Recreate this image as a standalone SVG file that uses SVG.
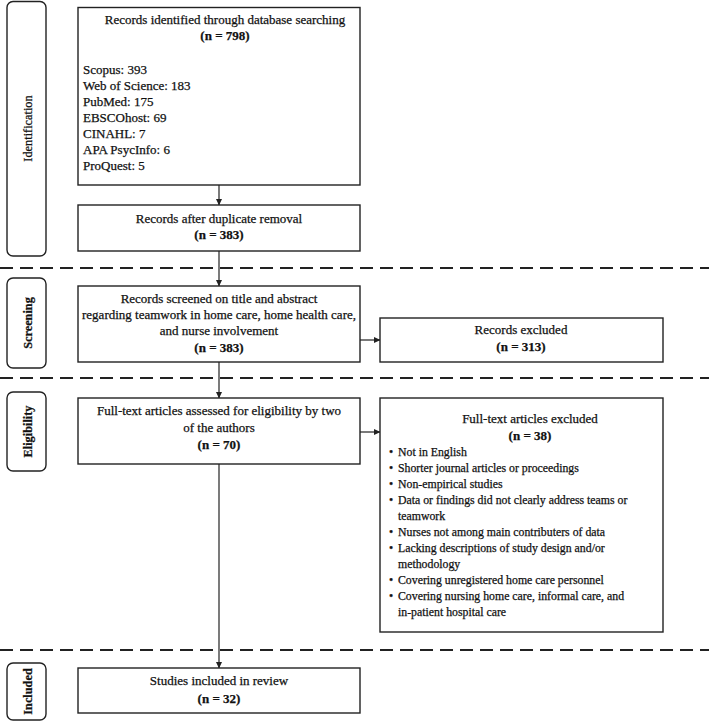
<svg xmlns="http://www.w3.org/2000/svg" width="709" height="722" viewBox="0 0 709 722">
<style>
  text { font-family: "Liberation Serif", "Times New Roman", serif; fill: #111; stroke: #111; stroke-width: 0.25; }
  .t { font-size: 13px; }
  .c { text-anchor: middle; }
  .b { font-weight: bold; }
  .s { font-size: 11.8px; }
  .lab { font-size: 12.3px; text-anchor: middle; }
  .box { fill: #fff; stroke: #222; stroke-width: 1.4; }
  .side { fill: #fff; stroke: #222; stroke-width: 1.4; }
  .dash { stroke: #222; stroke-width: 2; stroke-dasharray: 13 7; fill: none; }
  .con { stroke: #222; stroke-width: 1.2; fill: none; marker-end: url(#ah); }
</style>
<defs>
  <marker id="ah" markerWidth="7" markerHeight="7" refX="6" refY="3.5" orient="auto" markerUnits="userSpaceOnUse">
    <path d="M0,0.5 L6.5,3.5 L0,6.5 Z" fill="#222"/>
  </marker>
</defs>
<rect width="709" height="722" fill="#fff"/>

<g id="phases">
  <line class="dash" x1="0" y1="268" x2="709" y2="268"/>
  <line class="dash" x1="0" y1="378" x2="709" y2="378"/>
  <line class="dash" x1="0" y1="650" x2="709" y2="650"/>
</g>

<g id="label-identification">
  <rect class="side" x="7" y="1.5" width="39" height="254.5" rx="6"/>
  <text class="lab" transform="translate(32,128.5) rotate(-90)">Identification</text>
</g>
<g id="label-screening">
  <rect class="side" x="7" y="278" width="39" height="90" rx="6"/>
  <text class="lab b" transform="translate(32,323) rotate(-90)">Screening</text>
</g>
<g id="label-eligibility">
  <rect class="side" x="7" y="392" width="39" height="79" rx="6"/>
  <text class="lab b" transform="translate(32,431.5) rotate(-90)">Eligibility</text>
</g>
<g id="label-included">
  <rect class="side" x="7" y="663" width="39" height="57" rx="6"/>
  <text class="lab b" transform="translate(32,691.5) rotate(-90)">Included</text>
</g>

<g id="connectors">
  <line class="con" x1="219" y1="185" x2="219" y2="205"/>
  <line class="con" x1="219" y1="251" x2="219" y2="286"/>
  <line class="con" x1="360" y1="340" x2="380" y2="340"/>
  <line class="con" x1="219" y1="362" x2="219" y2="398"/>
  <line class="con" x1="360" y1="432" x2="380" y2="432"/>
  <line class="con" x1="219" y1="464" x2="219" y2="668"/>
</g>

<g id="identified">
  <rect class="box" x="78" y="7.5" width="282" height="177.5"/>
  <text class="t c" x="225" y="24">Records identified through database searching</text>
  <text class="t c b" x="225" y="40">(n = 798)</text>
  <text class="t" x="83" y="74">Scopus: 393</text>
  <text class="t" x="83" y="90">Web of Science: 183</text>
  <text class="t" x="83" y="106">PubMed: 175</text>
  <text class="t" x="83" y="122">EBSCOhost: 69</text>
  <text class="t" x="83" y="138">CINAHL: 7</text>
  <text class="t" x="83" y="154">APA PsycInfo: 6</text>
  <text class="t" x="83" y="170">ProQuest: 5</text>
</g>

<g id="deduplicated">
  <rect class="box" x="78" y="205" width="282" height="46"/>
  <text class="t c" x="219" y="223">Records after duplicate removal</text>
  <text class="t c b" x="219" y="239">(n = 383)</text>
</g>

<g id="screened">
  <rect class="box" x="78" y="286" width="282" height="76"/>
  <text class="t c" x="219" y="303">Records screened on title and abstract</text>
  <text class="t c" x="219" y="319">regarding teamwork in home care, home health care,</text>
  <text class="t c" x="219" y="335">and nurse involvement</text>
  <text class="t c b" x="219" y="352">(n = 383)</text>
</g>

<g id="records-excluded">
  <rect class="box" x="380" y="318" width="283" height="44"/>
  <text class="t c" x="521" y="334">Records excluded</text>
  <text class="t c b" x="521" y="351">(n = 313)</text>
</g>

<g id="fulltext">
  <rect class="box" x="78" y="398" width="282" height="66"/>
  <text class="t c" x="219" y="415">Full-text articles assessed for eligibility by two</text>
  <text class="t c" x="219" y="432">of the authors</text>
  <text class="t c b" x="219" y="449">(n = 70)</text>
</g>

<g id="fulltext-excluded">
  <rect class="box" x="380" y="398" width="283" height="234"/>
  <text class="t c" x="530" y="423">Full-text articles excluded</text>
  <text class="t c b" x="530" y="440">(n = 38)</text>
  <g class="s">
    <text class="s" x="389" y="456">•</text><text class="s" x="398" y="456">Not in English</text>
    <text class="s" x="389" y="472">•</text><text class="s" x="398" y="472">Shorter journal articles or proceedings</text>
    <text class="s" x="389" y="488">•</text><text class="s" x="398" y="488">Non-empirical studies</text>
    <text class="s" x="389" y="504">•</text><text class="s" x="398" y="504">Data or findings did not clearly address teams or</text>
    <text class="s" x="398" y="520">teamwork</text>
    <text class="s" x="389" y="536">•</text><text class="s" x="398" y="536">Nurses not among main contributers of data</text>
    <text class="s" x="389" y="552">•</text><text class="s" x="398" y="552">Lacking descriptions of study design and/or</text>
    <text class="s" x="398" y="568">methodology</text>
    <text class="s" x="389" y="584">•</text><text class="s" x="398" y="584">Covering unregistered home care personnel</text>
    <text class="s" x="389" y="600">•</text><text class="s" x="398" y="600">Covering nursing home care, informal care, and</text>
    <text class="s" x="398" y="616">in-patient hospital care</text>
  </g>
</g>

<g id="included">
  <rect class="box" x="78" y="668" width="282" height="45"/>
  <text class="t c" x="219" y="685">Studies included in review</text>
  <text class="t c b" x="219" y="703">(n = 32)</text>
</g>
</svg>
